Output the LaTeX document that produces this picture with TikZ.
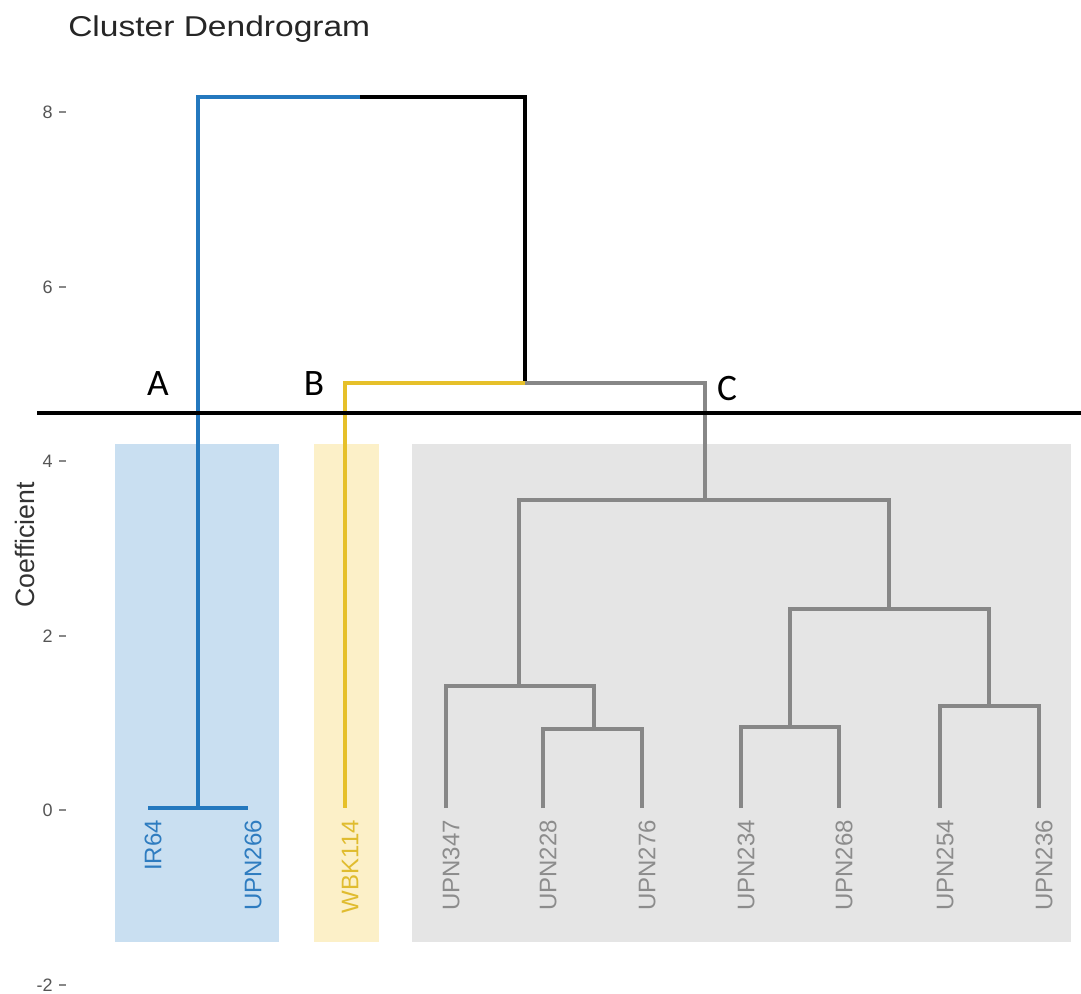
\documentclass[tikz,border=0pt]{standalone}
\usepackage{fontspec}
\setmainfont{Liberation Sans}
\newfontfamily\carlito{Carlito}
\definecolor{bluebg}{HTML}{C9DFF1}
\definecolor{yellowbg}{HTML}{FCF0C8}
\definecolor{graybg}{HTML}{E5E5E5}
\definecolor{blueln}{HTML}{2478BE}
\definecolor{yellowln}{HTML}{E6C02A}
\definecolor{grayln}{HTML}{878787}
\definecolor{graylab}{HTML}{8C8C8C}
\definecolor{bluelab}{HTML}{2E7CC0}
\definecolor{yellowlab}{HTML}{E0BC2F}
\definecolor{ticktxt}{HTML}{555555}
\begin{document}
\begin{tikzpicture}[x=0.75pt,y=-0.75pt,
  bl/.style={draw=blueln,line width=2.3pt},
  yl/.style={draw=yellowln,line width=2.3pt},
  gr/.style={draw=grayln,line width=2.3pt},
  bk/.style={draw=black,line width=2.3pt},
  cutline/.style={draw=black,line width=3.2pt},
  leaflab/.style={rotate=90,anchor=east,inner sep=0pt,font=\fontsize{18}{20}\selectfont},
  ticklab/.style={anchor=east,inner sep=0pt,text=ticktxt,font=\fontsize{13.5}{15}\selectfont},
  tickmark/.style={draw=ticktxt!70,line width=0.8pt},
  grp/.style={inner sep=0pt,font=\carlito\fontsize{28}{30}\selectfont},
  ttl/.style={anchor=base west,inner sep=0pt,text=black!85,font=\fontsize{21.5}{24}\selectfont},
  ylab/.style={rotate=90,inner sep=0pt,text=black!80,font=\fontsize{20}{22}\selectfont}]
\useasboundingbox (0,0) rectangle (1081,994);
% background groups
\fill[bluebg] (115,444) rectangle (279,942);
\fill[yellowbg] (314,444) rectangle (379,942);
\fill[graybg] (412,444) rectangle (1071,942);
% title and axis
\node[ttl] (title) at (68,37) {\scalebox{1.17}[1]{Cluster Dendrogram}};
\node[ylab] (ylabel) at (25,545) {Coefficient};
\foreach \v/\yy in {8/112,6/287,4/461,2/636,0/810,-2/985}{
  \node[ticklab] (t\v) at (53,\yy) {\v};
  \draw[tickmark] (59,\yy) -- (66,\yy);
}
% leaves
\coordinate (l1) at (148,808);
\coordinate (l2) at (248,808);
\coordinate (l3) at (345,808);
\coordinate (l4) at (446,808);
\coordinate (l5) at (543,808);
\coordinate (l6) at (642,808);
\coordinate (l7) at (741,808);
\coordinate (l8) at (839,808);
\coordinate (l9) at (940,808);
\coordinate (l10) at (1039,808);
% merges
\coordinate (mA) at (198,808);
\coordinate (topL) at (198,97);
\coordinate (topM) at (360,97);
\coordinate (topR) at (525,97);
\coordinate (mBC) at (525,383);
\coordinate (n1) at (705,500);
\coordinate (n2) at (519,686);
\coordinate (n3) at (889,609);
\coordinate (n4) at (594,729);
\coordinate (n5) at (790,727);
\coordinate (n6) at (989,706);
% cut line
\coordinate (cutL) at (37,413);
\coordinate (cutR) at (1081,413);
% branches
\draw[bl] (l1) -- (l2);
\draw[bl] (mA) -- (topL) -- (topM);
\draw[bk] (topM) -- (topR) -- (mBC);
\draw[yl] (mBC) -| (l3);
\draw[gr] (mBC) -| (n1);
\draw[gr] (n2) |- (n1) -| (n3);
\draw[gr] (l4) |- (n2) -| (n4);
\draw[gr] (l5) |- (n4) -| (l6);
\draw[gr] (n5) |- (n3) -| (n6);
\draw[gr] (l7) |- (n5) -| (l8);
\draw[gr] (l9) |- (n6) -| (l10);
\draw[cutline] (cutL) -- (cutR);
% group letters
\node[grp] (A) at (158,384) {A};
\node[grp] (B) at (314,384) {B};
\node[grp] (C) at (727,389) {C};
% leaf labels
\node[leaflab,text=bluelab] (t1) at (153,820) {IR64};
\node[leaflab,text=bluelab] (t2) at (253,820) {UPN266};
\node[leaflab,text=yellowlab] (t3) at (350,820) {WBK114};
\node[leaflab,text=graylab] (t4) at (451,820) {UPN347};
\node[leaflab,text=graylab] (t5) at (548,820) {UPN228};
\node[leaflab,text=graylab] (t6) at (647,820) {UPN276};
\node[leaflab,text=graylab] (t7) at (746,820) {UPN234};
\node[leaflab,text=graylab] (t8) at (844,820) {UPN268};
\node[leaflab,text=graylab] (t9) at (945,820) {UPN254};
\node[leaflab,text=graylab] (t10) at (1044,820) {UPN236};
\end{tikzpicture}
\end{document}
